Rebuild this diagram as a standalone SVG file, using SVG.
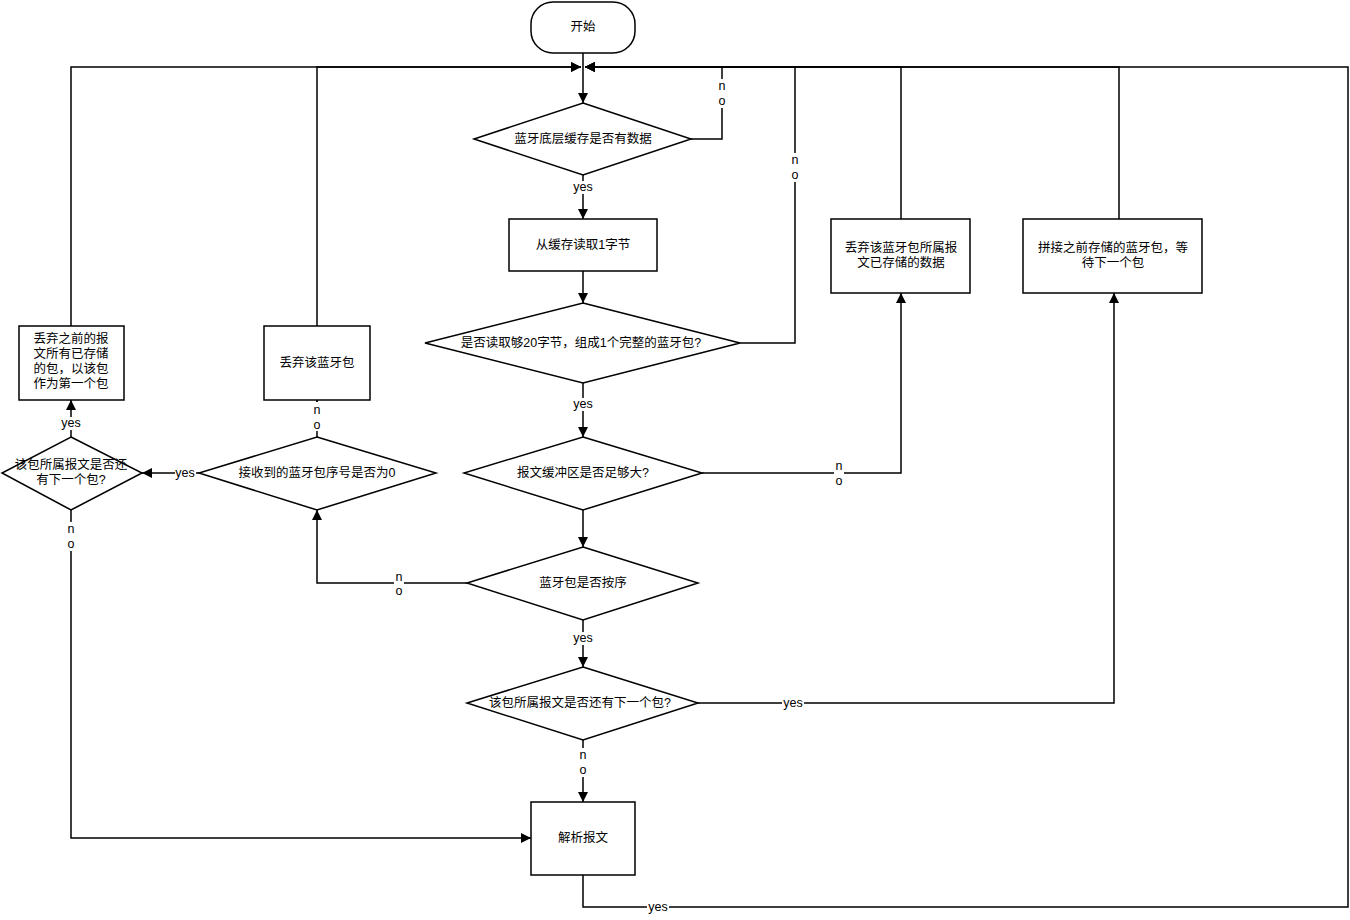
<svg xmlns="http://www.w3.org/2000/svg" width="1350" height="920" viewBox="0 0 1350 920">
<defs>
<marker id="arr" markerUnits="userSpaceOnUse" markerWidth="12" markerHeight="11" refX="10" refY="5" orient="auto">
<path d="M0,0 L10,5 L0,10 z" fill="#000"/>
</marker>
<style>
.n{fill:#fff;stroke:#000;stroke-width:1.5}
.t{font-family:"Liberation Sans","Noto Sans CJK SC",sans-serif;font-size:12.5px;fill:#000;text-anchor:middle;dominant-baseline:central}
.c{fill:none;stroke:#000;stroke-width:1.5}
.a{marker-end:url(#arr)}
.lb{fill:#fff}
</style>
</defs>
<rect width="1350" height="920" fill="#fff"/>
<g id="connectors">
<path class="c a" d="M583,53 L583,103"/>
<path class="c a" d="M691,139 L722,139 L722,67 L585,67"/>
<path class="c a" d="M583,175 L583,219"/>
<path class="c a" d="M583,271 L583,303"/>
<path class="c a" d="M740,343 L795,343 L795,67 L585,67"/>
<path class="c a" d="M583,383 L583,437"/>
<path class="c a" d="M702,473 L901,473 L901,293"/>
<path class="c a" d="M901,219 L901,67 L585,67"/>
<path class="c a" d="M583,510 L583,547"/>
<path class="c a" d="M467,583 L317,583 L317,510"/>
<path class="c a" d="M317,437 L317,400"/>
<path class="c a" d="M199,473 L142,473"/>
<path class="c a" d="M71,437 L71,400"/>
<path class="c a" d="M71,326 L71,67 L581,67"/>
<path class="c a" d="M317,326 L317,67 L581,67"/>
<path class="c a" d="M71,510 L71,838 L531,838"/>
<path class="c a" d="M583,620 L583,667"/>
<path class="c a" d="M698,703 L1114,703 L1114,293"/>
<path class="c a" d="M1119,219 L1119,67 L585,67"/>
<path class="c a" d="M583,740 L583,802"/>
<path class="c a" d="M583,875 L583,907 L1348,907 L1348,67 L585,67"/>
<!-- labels -->
<rect class="lb" x="717" y="79" width="10" height="29"/>
<text class="t" x="722" y="86">n</text><text class="t" x="722" y="101">o</text>
<rect class="lb" x="572" y="181" width="22" height="13"/>
<text class="t" x="583" y="187">yes</text>
<rect class="lb" x="790" y="153" width="10" height="29"/>
<text class="t" x="795" y="160">n</text><text class="t" x="795" y="175">o</text>
<rect class="lb" x="572" y="398" width="22" height="13"/>
<text class="t" x="583" y="404">yes</text>
<rect class="lb" x="834" y="460" width="10" height="28"/>
<text class="t" x="839" y="466">n</text><text class="t" x="839" y="481">o</text>
<rect class="lb" x="394" y="571" width="10" height="27"/>
<text class="t" x="399" y="577">n</text><text class="t" x="399" y="591">o</text>
<rect class="lb" x="312" y="402" width="10" height="29"/>
<text class="t" x="317" y="410">n</text><text class="t" x="317" y="425">o</text>
<rect class="lb" x="175" y="467" width="21" height="13"/>
<text class="t" x="185" y="473">yes</text>
<rect class="lb" x="60" y="417" width="22" height="13"/>
<text class="t" x="71" y="423">yes</text>
<rect class="lb" x="66" y="522" width="10" height="29"/>
<text class="t" x="71" y="529">n</text><text class="t" x="71" y="544">o</text>
<rect class="lb" x="572" y="632" width="22" height="13"/>
<text class="t" x="583" y="638">yes</text>
<rect class="lb" x="782" y="697" width="22" height="13"/>
<text class="t" x="793" y="703">yes</text>
<rect class="lb" x="578" y="748" width="10" height="29"/>
<text class="t" x="583" y="755">n</text><text class="t" x="583" y="770">o</text>
<rect class="lb" x="647" y="901" width="22" height="13"/>
<text class="t" x="658" y="907">yes</text>
</g>
<g id="start">
<rect class="n" x="531" y="2" width="104" height="51" rx="22" ry="22"/>
<text class="t" x="583" y="27">开始</text>
</g>
<g id="d1">
<polygon class="n" points="583,103 691,139 583,175 474,139"/>
<text class="t" x="583" y="139">蓝牙底层缓存是否有数据</text>
</g>
<g id="r2">
<rect class="n" x="509" y="219" width="148" height="52"/>
<text class="t" x="583" y="245">从缓存读取1字节</text>
</g>
<g id="d3">
<polygon class="n" points="583,303 740,343 583,383 425,343"/>
<text class="t" x="581" y="343">是否读取够20字节，组成1个完整的蓝牙包?</text>
</g>
<g id="d4">
<polygon class="n" points="583,437 702,473 583,510 464,473"/>
<text class="t" x="583" y="473">报文缓冲区是否足够大?</text>
</g>
<g id="r5">
<rect class="n" x="831" y="219" width="139" height="74"/>
<text class="t" x="901" y="248">丢弃该蓝牙包所属报</text>
<text class="t" x="901" y="263">文已存储的数据</text>
</g>
<g id="d6">
<polygon class="n" points="583,547 698,583 583,620 467,583"/>
<text class="t" x="583" y="583">蓝牙包是否按序</text>
</g>
<g id="d7">
<polygon class="n" points="317,437 436,473 317,510 199,473"/>
<text class="t" x="317" y="473">接收到的蓝牙包序号是否为0</text>
</g>
<g id="r8">
<rect class="n" x="264" y="326" width="106" height="74"/>
<text class="t" x="317" y="363">丢弃该蓝牙包</text>
</g>
<g id="d9">
<polygon class="n" points="71,437 142,473 71,510 2,473"/>
<text class="t" x="71" y="465">该包所属报文是否还</text>
<text class="t" x="71" y="480">有下一个包?</text>
</g>
<g id="r10">
<rect class="n" x="19" y="326" width="105" height="74"/>
<text class="t" x="71" y="339">丢弃之前的报</text>
<text class="t" x="71" y="354">文所有已存储</text>
<text class="t" x="71" y="369">的包，以该包</text>
<text class="t" x="71" y="384">作为第一个包</text>
</g>
<g id="r11">
<rect class="n" x="531" y="802" width="104" height="73"/>
<text class="t" x="583" y="838">解析报文</text>
</g>
<g id="d12">
<polygon class="n" points="583,667 698,703 583,740 467,703"/>
<text class="t" x="580" y="703">该包所属报文是否还有下一个包?</text>
</g>
<g id="r13">
<rect class="n" x="1023" y="219" width="179" height="74"/>
<text class="t" x="1113" y="248">拼接之前存储的蓝牙包，等</text>
<text class="t" x="1113" y="263">待下一个包</text>
</g>
</svg>
